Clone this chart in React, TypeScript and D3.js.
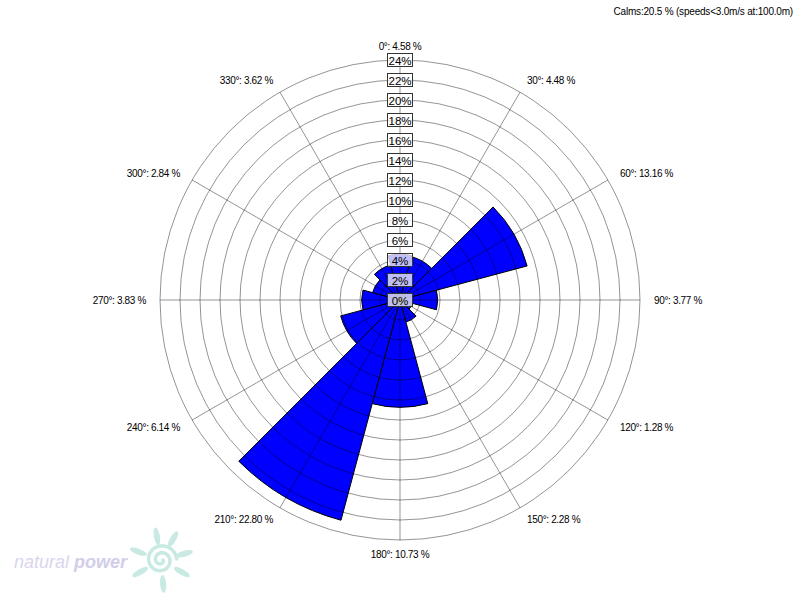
import * as d3 from "d3";

// wind rose: sector direction (deg) and frequency (%)
const directions = [0, 30, 60, 90, 120, 150, 180, 210, 240, 270, 300, 330];
const frequencies = [4.58, 4.48, 13.16, 3.77, 1.28, 2.28, 10.73, 22.8, 6.14, 3.83, 2.84, 3.62];
const ringTicks = [0, 2, 4, 6, 8, 10, 12, 14, 16, 18, 20, 22, 24];
const calmsText = "Calms:20.5 % (speeds<3.0m/s at:100.0m)";

const width = 800;
const height = 600;
const cx = 400;
const cy = 300;
const font = "'Liberation Sans', Arial, sans-serif";

export default function App() {
  const r = d3.scaleLinear().domain([0, 24]).range([0, 240]);
  const rad = (deg) => (deg * Math.PI) / 180;
  const sector = d3
    .arc()
    .innerRadius(0)
    .outerRadius((d) => r(d.value))
    .startAngle((d) => rad(d.dir - 15))
    .endAngle((d) => rad(d.dir + 15));

  const data = directions.map((dir, i) => ({ dir, value: frequencies[i] }));
  const labelR = 254;
  const gridStroke = "rgba(0,0,0,0.42)";

  // spiral for the logo
  const spiral = d3.range(0, 4 * Math.PI, 0.1).map((t) => {
    const rr = 2 + t * 1.1;
    return [Math.cos(t) * rr, Math.sin(t) * rr];
  });
  const rays = [-100, -60, -15, 30, 85, 150, 200];

  return (
    <svg
      width={width}
      height={height}
      style={{ position: "fixed", left: 0, top: 0, background: "#fff" }}
      fontFamily={font}
    >
      <text x={793} y={15} fontSize={10} textAnchor="end" fill="#000" letterSpacing={-0.2}>
        {calmsText}
      </text>

      <g transform={`translate(${cx},${cy})`}>
        {data.map((d) => (
          <path key={d.dir} d={sector(d)} fill="#0000ff" stroke="#000" strokeWidth={1} />
        ))}

        {/* grid drawn over the bars */}
        {ringTicks.slice(1).map((t) => (
          <circle key={t} r={r(t)} fill="none" stroke={gridStroke} strokeWidth={1} />
        ))}
        {directions.map((dir) => (
          <line
            key={dir}
            x1={0}
            y1={0}
            x2={Math.sin(rad(dir)) * r(24)}
            y2={-Math.cos(rad(dir)) * r(24)}
            stroke={gridStroke}
            strokeWidth={1}
          />
        ))}

        {ringTicks.map((t) => (
          <g key={t} transform={`translate(0,${-r(t)})`}>
            <rect x={-12.5} y={-6.5} width={25} height={13} fill="#fff" fillOpacity={0.75} stroke="#333" />
            <text y={0.5} fontSize={11.5} textAnchor="middle" dominantBaseline="central" fill="#000">
              {t}%
            </text>
          </g>
        ))}

        {data.map((d) => {
          const s = Math.sin(rad(d.dir));
          const c = Math.cos(rad(d.dir));
          const anchor = s > 0.01 ? "start" : s < -0.01 ? "end" : "middle";
          return (
            <text
              key={d.dir}
              x={s * labelR}
              y={-c * labelR}
              fontSize={10}
              letterSpacing={-0.35}
              textAnchor={anchor}
              dominantBaseline="central"
              fill="#000"
            >
              {`${d.dir}°: ${d.value.toFixed(2)} %`}
            </text>
          );
        })}
      </g>

      {/* natural power logo */}
      <text x={14} y={568} fontSize={18} fontStyle="italic" fill="#d9d5ee">
        natural <tspan fontWeight="bold" fill="#d2cdea">power</tspan>
      </text>
      <g transform="translate(161,560)" fill="#c9eae2" stroke="#c9eae2">
        <path
          d={d3.line()(spiral)}
          fill="none"
          strokeWidth={3.5}
          strokeLinecap="round"
        />
        {rays.map((a) => (
          <ellipse
            key={a}
            cx={0}
            cy={0}
            rx={9}
            ry={3}
            stroke="none"
            transform={`rotate(${a}) translate(24,0)`}
          />
        ))}
      </g>
    </svg>
  );
}
